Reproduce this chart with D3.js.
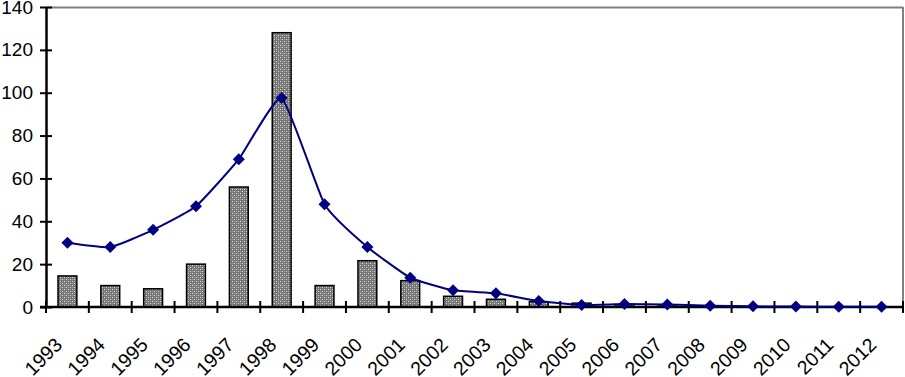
<!DOCTYPE html>
<html>
<head>
<meta charset="utf-8">
<script src="https://cdn.jsdelivr.net/npm/d3@7"></script>
<style>
  body { margin: 0; background: #fff; }
  text { font-family: "Liberation Sans", Arial, sans-serif; }
</style>
</head>
<body>
<div id="chart"></div>
<script>
const years = ["1993","1994","1995","1996","1997","1998","1999","2000","2001","2002",
               "2003","2004","2005","2006","2007","2008","2009","2010","2011","2012"]
const barValues = [14.5, 10, 8.5, 20, 56, 128, 10, 21.6, 12.3, 5,
                   3.6, 2.5, 1.8, 1, 0.5, 0, 0, 0, 0, 0]
const lineValues = [30, 28, 36, 47, 69, 97.5, 48, 28, 13.7, 7.8,
                    6.4, 2.8, 0.9, 1.4, 1.2, 0.6, 0.3, 0.2, 0.1, 0.1]
const yTicks = [0, 20, 40, 60, 80, 100, 120, 140]

const width = 905, height = 377
const margin = {top: 7, right: 2, bottom: 70, left: 46}
const innerWidth = width - margin.left - margin.right
const innerHeight = height - margin.top - margin.bottom

const svg = d3.select("#chart").append("svg")
  .attr("width", width)
  .attr("height", height)

// dotted fill like the old spreadsheet pattern
const defs = svg.append("defs")
const pat = defs.append("pattern")
  .attr("id", "dots")
  .attr("patternUnits", "userSpaceOnUse")
  .attr("width", 4).attr("height", 4)
pat.append("rect").attr("width", 4).attr("height", 4).attr("fill", "#747474")
pat.append("rect").attr("x", 0).attr("y", 0).attr("width", 1).attr("height", 1).attr("fill", "#e0e0e0")
pat.append("rect").attr("x", 2).attr("y", 2).attr("width", 1).attr("height", 1).attr("fill", "#e0e0e0")
pat.append("rect").attr("x", 2).attr("y", 0).attr("width", 1).attr("height", 1).attr("fill", "#a0a0a0")
pat.append("rect").attr("x", 0).attr("y", 2).attr("width", 1).attr("height", 1).attr("fill", "#a0a0a0")

const g = svg.append("g").attr("transform", `translate(${margin.left},${margin.top})`)

const xScale = d3.scaleBand()
  .domain(years)
  .range([0, innerWidth])
  .paddingInner(0.56)
  .paddingOuter(0.28)

const xPoint = d => xScale(d) + xScale.bandwidth() / 2

const yScale = d3.scaleLinear()
  .domain([0, 140])
  .range([innerHeight, 0])

// plot area frame (top and right, gray)
g.append("line")
  .attr("x1", 0).attr("x2", innerWidth)
  .attr("y1", 0.5).attr("y2", 0.5)
  .attr("stroke", "#808080").attr("stroke-width", 2)
g.append("line")
  .attr("x1", innerWidth).attr("x2", innerWidth)
  .attr("y1", 0).attr("y2", innerHeight)
  .attr("stroke", "#808080").attr("stroke-width", 2)

// bars
g.selectAll("rect.bar")
  .data(years.map((y, i) => ({year: y, v: barValues[i]})).filter(d => d.v > 0))
  .enter().append("rect")
  .attr("class", "bar")
  .attr("x", d => xScale(d.year))
  .attr("y", d => yScale(d.v))
  .attr("width", xScale.bandwidth())
  .attr("height", d => innerHeight - yScale(d.v))
  .attr("fill", "url(#dots)")
  .attr("stroke", "#000")
  .attr("stroke-width", 1.5)

// y axis
const yAxis = g.append("g")
  .call(d3.axisLeft(yScale).tickValues(yTicks).tickSize(0).tickPadding(13))
yAxis.select(".domain").attr("stroke", "#000").attr("stroke-width", 2.5)
yAxis.selectAll(".tick line").remove()
yAxis.selectAll(".tick").append("line")
  .attr("x1", -6).attr("x2", 6)
  .attr("stroke", "#000").attr("stroke-width", 2)
yAxis.selectAll("text")
  .attr("font-size", 19)
  .attr("fill", "#000")
  .attr("font-family", "Liberation Sans, Arial, sans-serif")

// x axis
const xAxisG = g.append("g").attr("transform", `translate(0,${innerHeight})`)
xAxisG.append("line")
  .attr("x1", -6).attr("x2", innerWidth)
  .attr("stroke", "#000").attr("stroke-width", 2.5)
xAxisG.selectAll("line.tick")
  .data(d3.range(years.length + 1))
  .enter().append("line")
  .attr("class", "tick")
  .attr("x1", i => i * xScale.step()).attr("x2", i => i * xScale.step())
  .attr("y1", -6).attr("y2", 6)
  .attr("stroke", "#000").attr("stroke-width", 2)
xAxisG.selectAll("text")
  .data(years)
  .enter().append("text")
  .attr("transform", d => `translate(${xPoint(d) - 4},${39}) rotate(-45)`)
  .attr("text-anchor", "end")
  .attr("font-size", 19.5)
  .attr("fill", "#000")
  .text(d => d)

// line series
const line = d3.line()
  .x((d, i) => xPoint(years[i]))
  .y(d => yScale(d))
  .curve(d3.curveCardinal.tension(0.55))

g.append("path")
  .datum(lineValues)
  .attr("d", line)
  .attr("fill", "none")
  .attr("stroke", "#000080")
  .attr("stroke-width", 2)

g.selectAll("path.marker")
  .data(lineValues)
  .enter().append("path")
  .attr("class", "marker")
  .attr("transform", (d, i) => `translate(${xPoint(years[i])},${yScale(d)})`)
  .attr("d", "M0,-6L6,0L0,6L-6,0Z")
  .attr("fill", "#000080")
</script>
</body>
</html>
